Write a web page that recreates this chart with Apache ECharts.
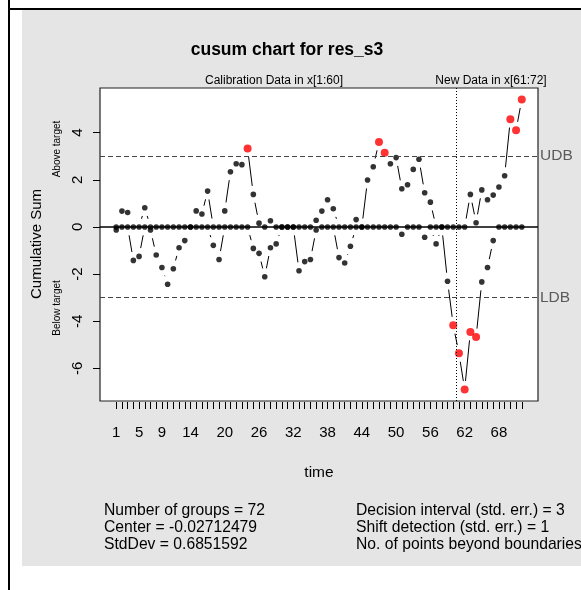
<!DOCTYPE html>
<html>
<head>
<meta charset="utf-8">
<script src="https://cdn.jsdelivr.net/npm/echarts@6/dist/echarts.min.js"></script>
<style>
  html, body { margin: 0; padding: 0; background: #ffffff; }
  #chart { width: 581px; height: 590px; }
</style>
</head>
<body>
<div id="chart"></div>
<script>
// Sample index (time) for each group
const times = [
  1, 2, 3, 4, 5, 6, 7, 8, 9, 10, 11, 12, 13, 14, 15, 16, 17, 18,
  19, 20, 21, 22, 23, 24, 25, 26, 27, 28, 29, 30, 31, 32, 33, 34, 35, 36,
  37, 38, 39, 40, 41, 42, 43, 44, 45, 46, 47, 48, 49, 50, 51, 52, 53, 54,
  55, 56, 57, 58, 59, 60, 61, 62, 63, 64, 65, 66, 67, 68, 69, 70, 71, 72
];

// Upper cumulative sum (above target), std. err. units
const upperCusum = [
  0, 0.67, 0.61, 0, 0, 0.81, 0, 0, 0, 0, 0, 0, 0, 0, 0.68, 0.55, 1.52, 0,
  0, 0.68, 2.34, 2.68, 2.64, 3.32, 1.38, 0.16, 0, 0.26, 0, 0, 0, 0, 0, 0, 0, 0.28,
  0.67, 1.15, 0.77, 0, 0, 0, 0.31, 0, 1.99, 2.55, 3.60, 3.15, 2.68, 2.94, 1.62, 1.79, 2.44, 2.87,
  1.45, 1.05, 0, 0, 0, 0, 0, 0, 1.38, 0.18, 1.57, 1.15, 1.35, 1.69, 2.17, 4.57, 4.10, 5.40
];

// Lower cumulative sum (below target), std. err. units
const lowerCusum = [
  -0.13, 0, 0, -1.42, -1.25, 0, -0.13, -1.19, -1.72, -2.43, -1.77, -0.88, -0.58, 0, 0, 0, 0, -0.78,
  -1.38, 0, 0, 0, 0, 0, -0.91, -1.12, -2.11, -0.88, -0.72, 0, 0, 0, -1.86, -1.47, -1.38, -0.13,
  0, 0, 0, -1.30, -1.53, -0.82, 0, 0, 0, 0, 0, 0, 0, 0, -0.31, 0, 0, 0,
  -0.44, 0, -0.72, 0, -2.30, -4.17, -5.36, -6.89, -4.45, -4.67, -2.33, -1.72, -0.58, 0, 0, 0, 0, 0
];

const xTickLabels = [1, 5, 9, 14, 20, 26, 32, 38, 44, 50, 56, 62, 68];
const yTickLabels = [-6, -4, -2, 0, 2, 4];
const decisionInterval = 3;
const newDataStart = 60.5;

const statsLeft = [
  'Number of groups = 72',
  'Center = -0.02712479',
  'StdDev = 0.6851592'
];
const statsRight = [
  'Decision interval (std. err.) = 3',
  'Shift detection (std. err.) = 1',
  'No. of points beyond boundaries = 11'
];

const FONT = '"Liberation Sans", Arial, Helvetica, sans-serif';

// Connecting segments drawn like R's type="b": each segment is
// shortened at both ends so it stops short of the plotted points.
function gappedLine(values, gap) {
  const segs = [];
  for (let i = 0; i < values.length - 1; i++) {
    segs.push([times[i], values[i], times[i + 1], values[i + 1]]);
  }
  return {
    type: 'custom',
    coordinateSystem: 'cartesian2d',
    data: segs,
    encode: { x: [0, 2], y: [1, 3] },
    silent: true,
    z: 2,
    renderItem: function (params, api) {
      const p0 = api.coord([api.value(0), api.value(1)]);
      const p1 = api.coord([api.value(2), api.value(3)]);
      const dx = p1[0] - p0[0], dy = p1[1] - p0[1];
      const len = Math.sqrt(dx * dx + dy * dy);
      if (len <= 2 * gap) return null;
      const ux = dx / len, uy = dy / len;
      return {
        type: 'line',
        shape: {
          x1: p0[0] + ux * gap, y1: p0[1] + uy * gap,
          x2: p1[0] - ux * gap, y2: p1[1] - uy * gap
        },
        style: { stroke: '#000', lineWidth: 1 }
      };
    }
  };
}

function pointSeries(values) {
  return {
    type: 'scatter',
    data: values.map(function (v, i) { return [times[i], v]; }),
    symbol: 'circle',
    symbolSize: function (val) {
      return Math.abs(val[1]) > decisionInterval ? 8 : 5.6;
    },
    itemStyle: {
      color: function (p) {
        return Math.abs(p.value[1]) > decisionInterval ? '#ff0000' : '#000000';
      }
    },
    silent: true,
    z: 3
  };
}

const chart = echarts.init(document.getElementById('chart'), null, { renderer: 'canvas' });

const graphics = [
  // page panel and frame
  { type: 'rect', z: -10, shape: { x: 22, y: 10, width: 559, height: 556 }, style: { fill: '#e5e5e5' } },
  { type: 'rect', z: -9, shape: { x: 8, y: 0, width: 2, height: 590 }, style: { fill: '#000' } },
  { type: 'rect', z: -9, shape: { x: 8, y: 8, width: 573, height: 2 }, style: { fill: '#000' } },
  // title and data-range captions
  { type: 'text', x: 287, y: 50, style: { text: 'cusum chart for res_s3', font: 'bold 17.5px ' + FONT, fill: '#000', align: 'center', verticalAlign: 'middle' } },
  { type: 'text', x: 274, y: 81, style: { text: 'Calibration Data in x[1:60]', font: '12px ' + FONT, fill: '#000', align: 'center', verticalAlign: 'middle' } },
  { type: 'text', x: 491, y: 81, style: { text: 'New Data in x[61:72]', font: '12px ' + FONT, fill: '#000', align: 'center', verticalAlign: 'middle' } },
  // y-axis titles
  { type: 'text', x: 37, y: 244, rotation: Math.PI / 2, style: { text: 'Cumulative Sum', font: '15px ' + FONT, fill: '#000', align: 'center', verticalAlign: 'middle' } },
  { type: 'text', x: 57, y: 149, rotation: Math.PI / 2, style: { text: 'Above target', font: '10px ' + FONT, fill: '#000', align: 'center', verticalAlign: 'middle' } },
  { type: 'text', x: 57, y: 308, rotation: Math.PI / 2, style: { text: 'Below target', font: '10px ' + FONT, fill: '#000', align: 'center', verticalAlign: 'middle' } }
];

statsLeft.forEach(function (t, i) {
  graphics.push({ type: 'text', x: 104, y: 511 + i * 17, style: { text: t, font: '15.7px ' + FONT, fill: '#000', align: 'left', verticalAlign: 'middle' } });
});
statsRight.forEach(function (t, i) {
  graphics.push({ type: 'text', x: 356, y: 511 + i * 17, style: { text: t, font: '15.7px ' + FONT, fill: '#000', align: 'left', verticalAlign: 'middle' } });
});

const option = {
  animation: false,
  textStyle: { fontFamily: FONT },
  graphic: graphics,
  grid: {
    left: 100, top: 88, width: 438, height: 313,
    show: true, backgroundColor: '#ffffff', borderColor: '#222', borderWidth: 1.2
  },
  xAxis: {
    type: 'value',
    min: -1.84, max: 74.84,
    offset: 1,
    axisLine: { show: false, onZero: false },
    splitLine: { show: false },
    axisTick: { show: true, length: 7, customValues: times, lineStyle: { color: '#000', width: 1 } },
    axisLabel: { customValues: xTickLabels, margin: 23, fontSize: 15, color: '#000', fontFamily: FONT },
    name: 'time', nameLocation: 'middle', nameGap: 63,
    nameTextStyle: { fontSize: 15.5, color: '#000', fontFamily: FONT }
  },
  yAxis: {
    type: 'value',
    min: -7.38, max: 5.89,
    axisLine: { show: false, onZero: false },
    splitLine: { show: false },
    axisTick: { show: true, length: 7, customValues: yTickLabels, lineStyle: { color: '#000', width: 1 } },
    axisLabel: { customValues: yTickLabels, rotate: 90, margin: 15, fontSize: 15, color: '#000', fontFamily: FONT }
  },
  series: [
    {
      type: 'line',
      data: [],
      silent: true,
      z: 1,
      markLine: {
        silent: true,
        symbol: 'none',
        animation: false,
        data: [
          { yAxis: 0, lineStyle: { color: '#000', width: 1.6, type: 'solid' }, label: { show: false } },
          { yAxis: decisionInterval, lineStyle: { color: '#444', width: 1, type: [5, 3] },
            label: { show: true, position: 'end', formatter: 'UDB', color: '#5a5a5a', fontSize: 15.5, distance: 2, fontFamily: FONT } },
          { yAxis: -decisionInterval, lineStyle: { color: '#444', width: 1, type: [5, 3] },
            label: { show: true, position: 'end', formatter: 'LDB', color: '#5a5a5a', fontSize: 15.5, distance: 2, fontFamily: FONT } },
          { xAxis: newDataStart, lineStyle: { color: '#000', width: 1, type: [1, 2] }, label: { show: false } }
        ]
      }
    },
    gappedLine(upperCusum, 8.5),
    gappedLine(lowerCusum, 8.5),
    pointSeries(upperCusum),
    pointSeries(lowerCusum)
  ]
};

chart.setOption(option);
</script>
</body>
</html>
